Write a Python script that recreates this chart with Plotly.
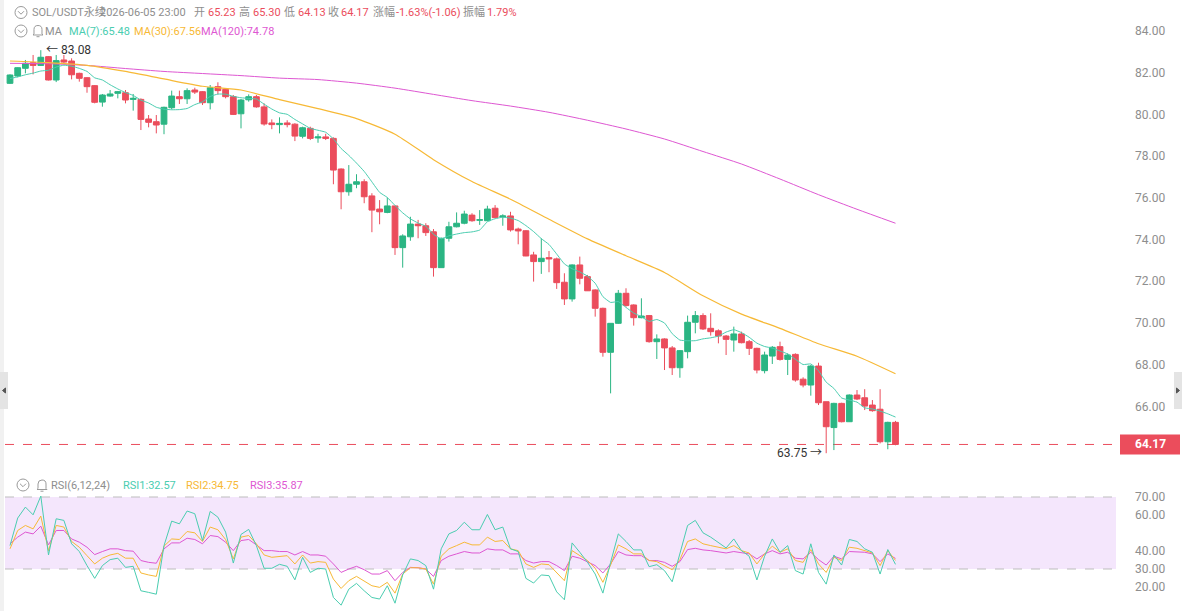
import plotly.graph_objects as go
import pandas as pd

W, H = 1182, 611

# ---------------- data ----------------
opens = [81.49, 81.84, 82.21, 82.48, 82.35, 82.77, 81.65, 82.61, 82.56, 81.97,
         81.76, 81.38, 80.59, 80.88, 81.01, 81.04, 80.72, 80.72, 79.78, 79.65,
         79.53, 80.32, 80.85, 80.75, 81.17, 81.09, 80.56, 81.33, 81.20, 80.85,
         80.03, 80.70, 80.85, 80.36, 79.59, 79.51, 79.59, 79.53, 78.95, 79.33,
         78.87, 78.92, 78.85, 77.38, 76.29, 76.65, 76.77, 76.09, 75.46, 75.30,
         75.61, 73.61, 74.13, 74.74, 74.66, 74.37, 72.65, 74.06, 74.61, 74.78,
         75.17, 74.92, 74.90, 75.50, 75.08, 75.13, 74.50, 74.42, 73.26, 72.94,
         73.13, 73.07, 71.95, 71.15, 72.78, 72.22, 71.58, 70.70, 68.59, 69.98,
         71.42, 70.86, 70.25, 70.35, 69.10, 69.23, 68.80, 67.85, 68.62, 70.03,
         70.35, 69.74, 69.62, 69.37, 69.18, 69.47, 69.10, 68.78, 67.71, 68.41,
         68.86, 68.25, 68.49, 67.30, 67.02, 67.93, 66.22, 64.98, 66.14, 65.26,
         66.54, 66.41, 66.06, 65.86, 64.30, 65.23]
highs = [81.92, 82.26, 82.61, 82.85, 83.08, 82.80, 82.85, 82.85, 82.69, 82.00,
         81.78, 81.41, 80.98, 81.17, 81.12, 81.17, 80.98, 80.77, 79.97, 79.97,
         80.37, 81.14, 81.14, 81.25, 81.28, 81.12, 81.41, 81.54, 81.25, 80.93,
         80.74, 80.96, 80.93, 80.53, 79.76, 79.86, 79.72, 79.58, 79.41, 79.41,
         79.07, 79.07, 78.90, 77.41, 77.57, 77.13, 76.89, 76.22, 75.89, 76.01,
         75.62, 74.25, 75.09, 74.94, 74.78, 74.50, 74.09, 74.85, 75.30, 75.38,
         75.26, 75.41, 75.62, 75.65, 75.21, 75.33, 74.57, 74.45, 73.41, 74.06,
         73.45, 73.13, 72.38, 72.81, 73.18, 72.30, 71.61, 70.73, 69.98, 71.58,
         71.66, 70.89, 71.18, 70.38, 69.45, 69.26, 68.89, 68.70, 70.35, 70.57,
         70.46, 70.46, 69.69, 69.42, 69.82, 69.58, 69.18, 68.81, 68.62, 68.89,
         69.10, 68.54, 68.54, 67.39, 67.98, 68.09, 66.22, 66.17, 66.17, 66.57,
         66.78, 66.82, 66.30, 66.82, 65.26, 65.30]
lows = [81.46, 81.78, 81.97, 81.92, 82.32, 81.63, 81.55, 82.42, 81.68, 81.57,
        81.04, 80.53, 80.37, 80.85, 80.77, 80.53, 80.18, 79.25, 79.38, 79.09,
        79.05, 80.24, 80.50, 80.50, 80.98, 80.45, 80.24, 80.96, 80.77, 79.97,
        79.33, 80.61, 80.32, 79.46, 79.29, 79.09, 79.38, 78.72, 78.85, 78.77,
        78.64, 78.77, 76.65, 75.45, 76.10, 76.46, 75.74, 74.35, 74.73, 75.26,
        73.26, 72.65, 73.94, 74.06, 74.17, 72.22, 72.65, 73.90, 74.58, 74.73,
        74.85, 74.70, 74.89, 75.02, 74.66, 74.38, 73.77, 73.20, 71.98, 72.35,
        72.43, 71.63, 70.86, 71.02, 71.85, 71.53, 70.30, 68.38, 66.62, 69.95,
        70.78, 69.87, 70.22, 69.05, 68.27, 67.74, 67.50, 67.37, 68.30, 69.50,
        69.66, 69.39, 69.02, 68.46, 68.62, 69.02, 68.46, 67.58, 67.58, 68.03,
        68.19, 67.50, 67.18, 66.91, 66.51, 66.06, 63.75, 63.90, 65.23, 65.25,
        66.30, 65.82, 65.74, 64.22, 63.94, 64.13]
closes = [81.89, 82.24, 82.45, 82.35, 82.74, 81.65, 82.58, 82.51, 81.90, 81.73,
          81.33, 80.58, 80.93, 80.98, 81.09, 80.69, 80.77, 79.76, 79.62, 79.49,
          80.34, 80.88, 80.75, 81.14, 81.07, 80.56, 81.28, 81.14, 80.85, 80.00,
          80.69, 80.85, 80.36, 79.54, 79.51, 79.57, 79.51, 78.96, 79.36, 78.85,
          78.92, 78.85, 77.33, 76.29, 76.65, 76.77, 76.05, 75.41, 75.33, 75.61,
          73.61, 74.17, 74.74, 74.66, 74.33, 72.65, 74.06, 74.61, 74.78, 75.22,
          74.90, 74.95, 75.46, 75.05, 75.13, 74.46, 74.41, 73.21, 72.94, 73.10,
          73.07, 71.93, 71.15, 72.78, 72.14, 71.54, 70.70, 68.59, 69.98, 71.42,
          70.83, 70.25, 70.33, 69.10, 69.23, 68.80, 67.85, 68.67, 70.03, 70.35,
          69.71, 69.58, 69.37, 69.21, 69.47, 69.05, 68.78, 67.74, 68.46, 68.83,
          68.25, 68.46, 67.26, 67.02, 67.93, 66.17, 65.02, 66.14, 65.26, 66.54,
          66.35, 66.01, 65.79, 64.30, 65.23, 64.17]

ma7_head = [81.72, 81.80, 81.90, 81.98, 82.08, 82.12]   # first points, before 7 closes exist

ma_idx = [0, 5, 10, 15, 20, 25, 30, 35, 40, 45, 50, 55,
          60, 65, 70, 75, 80, 85, 90, 95, 100, 105, 110, 115]
ma30 = [82.56, 82.48, 82.35, 82.06, 81.70, 81.35, 81.17, 80.71, 80.28, 79.80, 79.05, 77.83,
        76.78, 75.93, 74.97, 74.03, 73.22, 72.42, 71.30, 70.42, 69.74, 69.00, 68.40, 67.56]
ma120 = [82.45, 82.43, 82.35, 82.20, 82.06, 81.96, 81.86, 81.74, 81.67, 81.50, 81.26, 80.96,
         80.66, 80.40, 80.10, 79.72, 79.30, 78.82, 78.22, 77.62, 76.90, 76.15, 75.45, 74.78]

rsi6 = [43.0, 58.3, 64.4, 60.1, 70.5, 37.8, 57.9, 57.0, 44.0, 39.7,
        31.9, 24.8, 31.9, 35.2, 36.0, 30.9, 31.5, 17.9, 17.0, 16.0,
        43.0, 56.6, 55.1, 62.2, 60.7, 45.8, 62.0, 58.8, 50.5, 33.3,
        49.2, 52.0, 43.0, 30.4, 30.4, 32.6, 31.5, 24.0, 36.5, 28.1,
        30.4, 30.0, 14.2, 9.9, 18.8, 22.0, 17.9, 14.2, 13.3, 20.7,
        11.0, 26.7, 35.6, 34.7, 31.9, 18.8, 41.2, 49.5,
        51.4, 56.0, 51.8, 51.8, 60.3, 51.8, 53.3, 41.2, 39.7, 24.8,
        22.2, 26.7, 26.3, 17.3, 12.9, 44.5, 39.3, 33.7, 27.2, 16.6,
        33.7, 49.5, 45.3, 40.6, 40.6, 31.3, 32.4, 29.1, 22.9, 37.8,
        54.2, 57.0, 50.1, 47.7, 44.9, 41.7, 46.7, 40.2, 37.1, 23.9,
        37.1, 46.7, 39.3, 43.0, 29.1, 27.2, 44.0, 28.1, 21.6, 37.8,
        32.2, 46.4, 45.3, 41.2, 39.3, 27.2, 40.8, 32.57]
rsi12 = [41.2, 51.4, 54.2, 52.3, 59.4, 40.2, 54.2, 53.3, 45.3, 42.1,
         37.4, 32.8, 36.0, 37.8, 38.7, 36.0, 36.0, 27.8, 26.7, 25.9,
         42.7, 46.7, 46.4, 50.8, 50.1, 45.3, 53.3, 51.8, 46.4, 35.6,
         47.7, 48.6, 44.0, 37.8, 36.5, 37.1, 37.4, 32.8, 37.8, 33.3,
         34.1, 33.7, 24.4, 19.2, 23.5, 25.9, 23.1, 20.7, 19.8, 22.6,
         16.6, 27.2, 30.7, 30.7, 30.0, 21.6, 37.1, 41.2,
         43.0, 44.9, 43.4, 43.4, 47.7, 45.3, 45.8, 41.2, 40.2, 32.8,
         30.9, 32.8, 32.4, 27.8, 23.5, 40.2, 37.4, 34.7, 30.4, 22.6,
         32.2, 43.4, 41.2, 38.4, 38.4, 34.7, 34.1, 31.9, 29.6, 35.2,
         45.3, 46.7, 44.0, 43.0, 42.1, 41.2, 43.0, 40.2, 38.9, 32.8,
         38.4, 42.7, 39.3, 41.2, 34.7, 33.7, 40.8, 32.8, 28.1, 36.5,
         34.7, 42.1, 41.5, 40.2, 38.9, 31.9, 40.2, 34.75]
rsi24 = [44.0, 47.7, 50.5, 49.5, 53.8, 43.4, 51.4, 51.4, 46.7, 44.9,
         42.1, 38.0, 39.7, 41.2, 41.2, 40.2, 39.9, 34.7, 33.7, 33.2,
         41.2, 44.5, 44.5, 47.1, 46.4, 44.0, 48.6, 48.0, 44.9, 40.2,
         45.8, 46.4, 43.4, 40.2, 40.2, 39.7, 39.7, 37.8, 39.7, 37.8,
         37.8, 37.1, 32.8, 28.1, 30.0, 31.5, 29.6, 27.2, 27.2, 29.1,
         23.5, 28.1, 30.9, 30.7, 30.0, 25.9, 34.7, 37.1,
         38.4, 39.7, 38.9, 38.9, 41.2, 40.6, 40.6, 38.4, 38.4, 34.7,
         33.3, 34.1, 34.1, 31.9, 29.1, 37.1, 36.0, 34.1, 31.9, 27.8,
         32.8, 39.7, 37.8, 37.4, 37.4, 34.7, 34.7, 33.7, 31.5, 34.1,
         40.8, 41.5, 40.6, 40.2, 39.7, 38.9, 39.7, 38.9, 38.4, 35.6,
         38.4, 40.2, 38.4, 39.3, 36.0, 35.6, 39.3, 35.2, 32.2, 37.1,
         35.6, 39.7, 39.7, 39.3, 38.4, 34.1, 38.4, 35.87]

price_ticks = [66, 68, 70, 72, 74, 76, 78, 80, 82, 84]
rsi_ticks = [20, 30, 40, 60, 70]
rsi_band = [30, 70]
high_idx, high_val = 4, 83.08
low_idx, low_val = 106, 63.75

# ---------------- styling ----------------
GREEN = '#2bb583'
RED = '#eb4d5c'
C7 = '#4acdb0'
C30 = '#f7b936'
C120 = '#de57d2'
GRAY = '#8e8e8e'
FONT = 'Roboto, Noto Sans CJK SC, sans-serif'
HDR = 11

X_L, X_R = 5, 1118          # plot area in pixels
STEP, X0PX = 7.7, 10        # candle spacing and first candle position
xr = [(X_L - X0PX) / STEP, (X_R - X0PX) / STEP]
main_top, main_bot = 0, 475
rsi_top, rsi_bot = 478, 611


def px(x):
    return x / W


def py(y):
    return 1 - y / H


idx = list(range(len(closes)))
ma7 = ma7_head + pd.Series(closes).rolling(7).mean().tolist()[6:]

fig = go.Figure()

fig.add_trace(go.Candlestick(
    x=idx, open=opens, high=highs, low=lows, close=closes,
    increasing=dict(line=dict(color=GREEN, width=1), fillcolor=GREEN),
    decreasing=dict(line=dict(color=RED, width=1), fillcolor=RED),
    whiskerwidth=0, hoverinfo='skip', xaxis='x', yaxis='y'))

fig.add_trace(go.Scatter(x=ma_idx, y=ma120, mode='lines', line=dict(color=C120, width=1, shape='spline', smoothing=0.6),
                         hoverinfo='skip', xaxis='x', yaxis='y'))
fig.add_trace(go.Scatter(x=ma_idx, y=ma30, mode='lines', line=dict(color=C30, width=1.2, shape='spline', smoothing=0.6),
                         hoverinfo='skip', xaxis='x', yaxis='y'))
fig.add_trace(go.Scatter(x=idx, y=ma7, mode='lines', line=dict(color=C7, width=1, shape='spline', smoothing=0.4),
                         hoverinfo='skip', xaxis='x', yaxis='y'))

fig.add_trace(go.Scatter(x=idx, y=rsi24, mode='lines', line=dict(color=C120, width=1), hoverinfo='skip',
                         xaxis='x2', yaxis='y2'))
fig.add_trace(go.Scatter(x=idx, y=rsi12, mode='lines', line=dict(color=C30, width=1), hoverinfo='skip',
                         xaxis='x2', yaxis='y2'))
fig.add_trace(go.Scatter(x=idx, y=rsi6, mode='lines', line=dict(color=C7, width=1), hoverinfo='skip',
                         xaxis='x2', yaxis='y2'))

# axis ranges that match the reference pixel geometry
p_per_px = 2 / 41.7
y_main = [84 - (main_bot - 31) * p_per_px, 84 + (31 - main_top) * p_per_px]
r_per_px = 10 / 18.0
y_rsi = [70 - (rsi_bot - 497) * r_per_px, 70 + (497 - rsi_top) * r_per_px]

tickfont = dict(family=FONT, size=12, color=GRAY)
fig.update_layout(
    width=W, height=H, margin=dict(l=0, r=0, t=0, b=0),
    paper_bgcolor='white', plot_bgcolor='white', showlegend=False,
    hovermode=False, boxgap=0.25, boxgroupgap=0,
    font=dict(family=FONT, size=12, color=GRAY),
    xaxis=dict(domain=[px(X_L), px(X_R)], range=xr, visible=False, rangeslider=dict(visible=False), anchor='y'),
    xaxis2=dict(domain=[px(X_L), px(X_R)], range=xr, visible=False, anchor='y2', matches='x'),
    yaxis=dict(domain=[py(main_bot), py(main_top)], range=y_main, side='right', anchor='x',
               tickvals=price_ticks, ticktext=[f'{v:.2f}' for v in price_ticks],
               showgrid=False, zeroline=False, showline=False, ticks='', ticklabelstandoff=16,
               tickfont=tickfont),
    yaxis2=dict(domain=[py(rsi_bot), py(rsi_top)], range=y_rsi, side='right', anchor='x2',
                tickvals=rsi_ticks, ticktext=[f'{v:.2f}' for v in rsi_ticks],
                showgrid=False, zeroline=False, showline=False, ticks='', ticklabelstandoff=16,
                tickfont=tickfont),
)

shapes = []
# RSI band and dashed guides
shapes.append(dict(type='rect', xref='paper', yref='y2', x0=px(X_L), x1=px(X_R - 2), y0=rsi_band[0], y1=rsi_band[1],
                   fillcolor='#f4e6fc', line=dict(width=0), layer='below'))
for v in rsi_band:
    shapes.append(dict(type='line', xref='paper', yref='y2', x0=px(X_L), x1=px(1121), y0=v, y1=v,
                       line=dict(color='#bdbdbd', width=1, dash='dash'), layer='below'))
# last-price dashed line and tag
last = closes[-1]
shapes.append(dict(type='line', xref='paper', yref='y', x0=px(X_L), x1=px(1121), y0=last, y1=last,
                   line=dict(color=RED, width=1, dash='dash'), layer='below'))
shapes.append(dict(type='rect', xref='paper', yref='y', x0=px(1120), x1=px(1180),
                   y0=last - 10 * p_per_px, y1=last + 10 * p_per_px, fillcolor=RED, line=dict(width=0)))
# left grey strip and side handles
shapes.append(dict(type='rect', xref='paper', yref='paper', x0=0, x1=px(4), y0=0, y1=1,
                   fillcolor='#f1f1f1', line=dict(width=0)))
shapes.append(dict(type='rect', xref='paper', yref='paper', x0=0, x1=px(8), y0=py(409), y1=py(372),
                   fillcolor='#e4e4e4', line=dict(width=0)))
shapes.append(dict(type='rect', xref='paper', yref='paper', x0=px(1174), x1=1, y0=py(409), y1=py(372),
                   fillcolor='#e4e4e4', line=dict(width=0)))


def path(cmds):
    out = []
    for c in cmds:
        if isinstance(c, str):
            out.append(c)
        else:
            out.append(f'{px(c[0]):.5f},{py(c[1]):.5f}')
    return ' '.join(out)


shapes.append(dict(type='path', xref='paper', yref='paper',
                   path=path(['M', (5.5, 388), 'L', (2.5, 390.5), 'L', (5.5, 393), 'Z']),
                   fillcolor='#555', line=dict(color='#555', width=1)))
shapes.append(dict(type='path', xref='paper', yref='paper',
                   path=path(['M', (1176.5, 388), 'L', (1179.5, 390.5), 'L', (1176.5, 393), 'Z']),
                   fillcolor='#555', line=dict(color='#555', width=1)))


def chevron_icon(cx, cy):
    r = 6
    shapes.append(dict(type='circle', xref='paper', yref='paper', x0=px(cx - r), x1=px(cx + r),
                       y0=py(cy + r), y1=py(cy - r), line=dict(color='#9a9a9a', width=1)))
    shapes.append(dict(type='path', xref='paper', yref='paper',
                       path=path(['M', (cx - 3, cy - 1.3), 'L', (cx, cy + 1.7), 'L', (cx + 3, cy - 1.3)]),
                       line=dict(color='#9a9a9a', width=1)))


def bell_icon(cx, cy):
    shapes.append(dict(type='path', xref='paper', yref='paper',
                       path=path(['M', (cx - 4, cy + 3.5), 'L', (cx - 4, cy - 1), 'Q', (cx - 4, cy - 5), (cx, cy - 5),
                                  'Q', (cx + 4, cy - 5), (cx + 4, cy - 1), 'L', (cx + 4, cy + 3.5),
                                  'L', (cx + 5, cy + 4.5), 'L', (cx - 5, cy + 4.5), 'Z']),
                       line=dict(color='#9a9a9a', width=1)))
    shapes.append(dict(type='path', xref='paper', yref='paper',
                       path=path(['M', (cx - 1.5, cy + 6.2), 'L', (cx + 1.5, cy + 6.2)]),
                       line=dict(color='#9a9a9a', width=1)))


chevron_icon(21, 12.5)
chevron_icon(21, 31)
bell_icon(38, 30.5)
chevron_icon(23, 485)
bell_icon(42, 485)

fig.update_layout(shapes=shapes)

anns = []


def label(x, y, text, color, size=HDR, **kw):
    anns.append(dict(xref='paper', yref='paper', x=px(x), y=py(y), text=text, showarrow=False,
                     xanchor='left', yanchor='middle', font=dict(family=FONT, size=size, color=color),
                     borderpad=0, **kw))


row1 = [(31, 'SOL/USDT永续', GRAY), (99, '2026-06-05 23:00', GRAY),
        (193, '开', GRAY), (207, f'{opens[-1]:.2f}', RED),
        (238, '高', GRAY), (252, f'{highs[-1]:.2f}', RED),
        (283, '低', GRAY), (297, f'{lows[-1]:.2f}', RED),
        (327, '收', GRAY), (340, f'{closes[-1]:.2f}', RED),
        (372, '涨幅', GRAY), (395, '-1.63%(-1.06)', RED),
        (462, '振幅', GRAY), (486, '1.79%', RED)]
for x, t, c in row1:
    label(x, 12.5, t, c)

row2 = [(44, 'MA', GRAY), (68, f'MA(7):{ma7[-1]:.2f}', C7),
        (133, f'MA(30):{ma30[-1]:.2f}', C30), (200, f'MA(120):{ma120[-1]:.2f}', C120)]
for x, t, c in row2:
    label(x, 31, t, c)

row3 = [(50, 'RSI(6,12,24)', GRAY), (122, f'RSI1:{rsi6[-1]:.2f}', C7),
        (185, f'RSI2:{rsi12[-1]:.2f}', C30), (249, f'RSI3:{rsi24[-1]:.2f}', C120)]
for x, t, c in row3:
    label(x, 485, t, c)

# high / low markers in data coordinates
anns.append(dict(xref='x', yref='y', x=high_idx, y=high_val, text=f'← {high_val:.2f}', showarrow=False,
                 xanchor='left', yanchor='middle', xshift=3, font=dict(family=FONT, size=12, color='#333333')))
anns.append(dict(xref='x', yref='y', x=low_idx, y=low_val, text=f'{low_val:.2f} →', showarrow=False,
                 xanchor='right', yanchor='middle', xshift=-2, font=dict(family=FONT, size=12, color='#333333')))
# last price tag
anns.append(dict(xref='paper', yref='y', x=px(1150), y=last, text=f'<b>{last:.2f}</b>', showarrow=False,
                 xanchor='center', yanchor='middle', font=dict(family=FONT, size=12, color='white')))

fig.update_layout(annotations=anns)

fig.write_html('out.html')
